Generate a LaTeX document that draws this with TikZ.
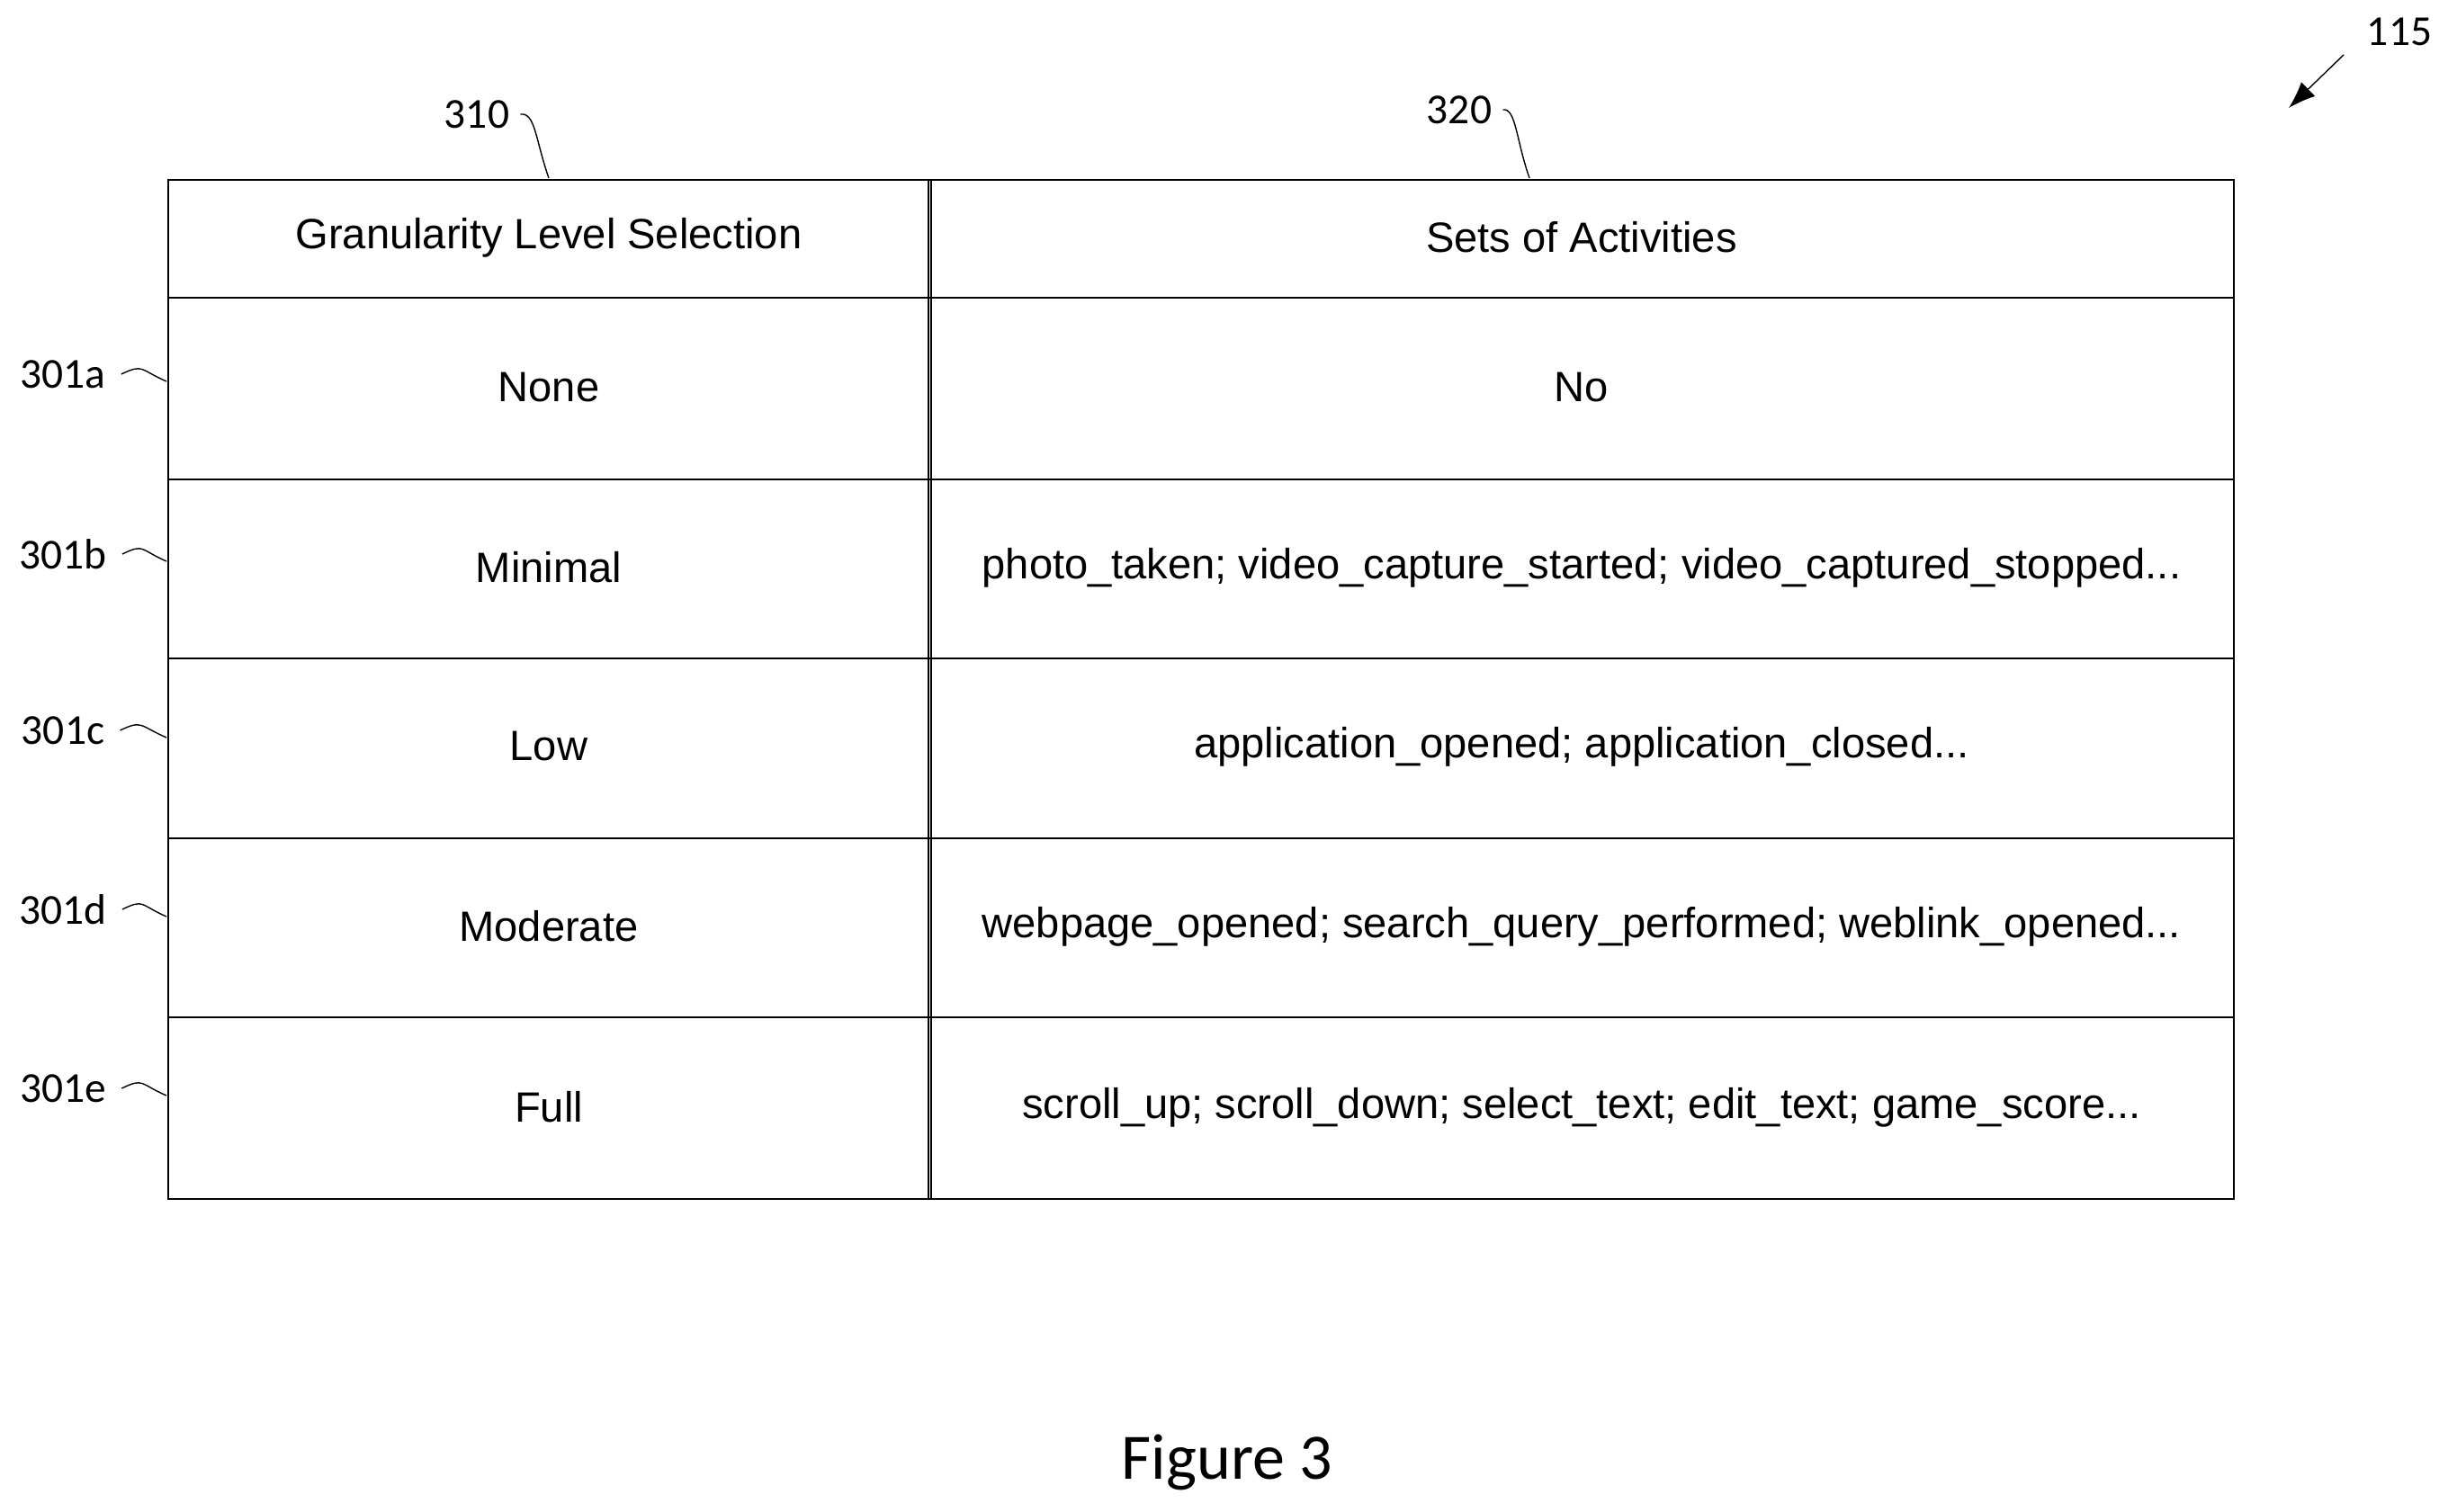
\documentclass[tikz,border=0pt]{standalone}
\usepackage{fontspec}
\usetikzlibrary{arrows.meta}
\setmainfont{Liberation Sans}
\newfontfamily\calfont{Carlito}
\begin{document}
\begin{tikzpicture}[x=1cm,y=1cm,
  cell/.style={font=\fontsize{13.4}{15}\selectfont},
  lbl/.style={font=\calfont\fontsize{13.5}{15}\selectfont},
  tline/.style={line width=0.8pt}]
\useasboundingbox (0,0) rectangle (27.21,-16.81);
% table
\draw[tline] (1.87,-2.00) rectangle (24.83,-13.33);
\draw[tline] (10.32,-2.00) -- (10.32,-13.33);
\draw[tline] (10.35,-2.00) -- (10.35,-13.33);
\foreach \y in {3.31,5.33,7.32,9.32,11.31} \draw[tline] (1.87,-\y) -- (24.83,-\y);
\node[cell] (h1) at (6.10,-2.64) {Granularity Level Selection};
\node[cell] (h2) at (17.58,-2.64) {Sets of Activities};
\node[cell] (a1) at (6.10,-4.31) {None};
\node[cell] (a2) at (17.58,-4.31) {No};
\node[cell] (b1) at (6.10,-6.31) {Minimal};
\node[cell] (b2) at (17.58,-6.31) {photo\_taken; video\_capture\_started; video\_captured\_stopped...};
\node[cell] (c1) at (6.10,-8.30) {Low};
\node[cell] (c2) at (17.58,-8.30) {application\_opened; application\_closed...};
\node[cell] (d1) at (6.10,-10.30) {Moderate};
\node[cell] (d2) at (17.58,-10.30) {webpage\_opened; search\_query\_performed; weblink\_opened...};
\node[cell] (e1) at (6.10,-12.31) {Full};
\node[cell] (e2) at (17.58,-12.31) {scroll\_up; scroll\_down; select\_text; edit\_text; game\_score...};
% column labels
\node[lbl] (l310) at (5.30,-1.27) {310};
\node[lbl] (l320) at (16.22,-1.22) {320};
\coordinate (t310) at (6.10,-1.98);
\coordinate (t320) at (17.00,-1.98);
\draw (l310.east) .. controls (5.95,-1.25) and (5.95,-1.55) .. (t310);
\draw (l320.east) .. controls (16.85,-1.20) and (16.85,-1.55) .. (t320);
% row labels
\foreach \n/\y in {a/4.16,b/6.16,c/8.12,d/10.11,e/12.10}{
  \node[lbl] (r\n) at (0.70,-\y) {301\n};
  \coordinate (p\n) at (1.85,-\y-0.08);
  \draw ([xshift=0.05cm]r\n.east) .. controls +(0.25,0.12) and (1.55,-\y+0.05) .. (p\n);
}
% 115
\node[lbl] (l115) at (26.67,-0.35) {115};
\coordinate (s115) at (26.05,-0.61);
\coordinate (e115) at (25.44,-1.20);
\draw[-{Latex[length=3mm,width=2.2mm]}] (s115) -- (e115);
\node[font=\calfont\fontsize{20.5}{24}\selectfont] (fig) at (13.64,-16.26) {Figure 3};
\end{tikzpicture}
\end{document}
